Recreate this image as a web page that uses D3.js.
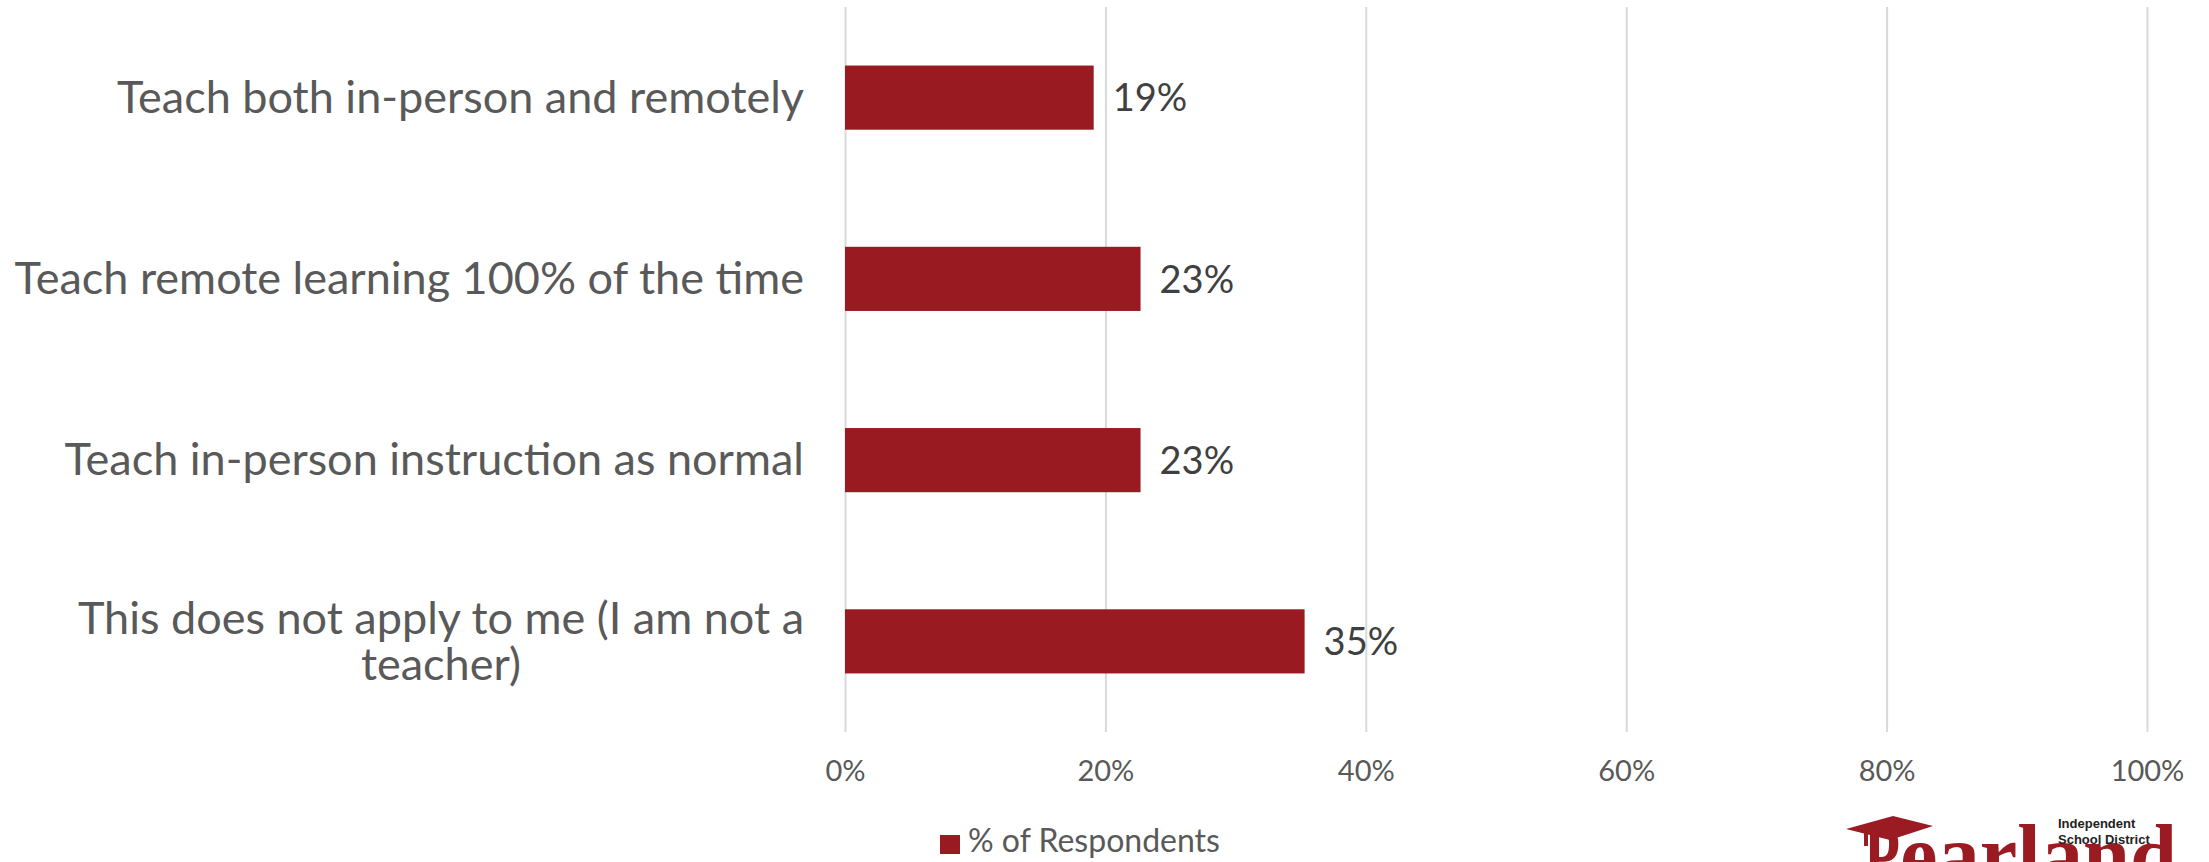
<!DOCTYPE html>
<html><head><meta charset="utf-8">
<script src="https://cdn.jsdelivr.net/npm/d3@7"></script>
<style>
body{margin:0;background:#fff;}
svg{display:block;}
text{font-family:Lato,"Open Sans",sans-serif;}
</style>
</head><body>
<svg id="chart" width="2209" height="862"></svg>
<script>
const categories = [
  "Teach both in-person and remotely",
  "Teach remote learning 100% of the time",
  "Teach in-person instruction as normal",
  "This does not apply to me (I am not a teacher)"
];
const values = [0.191, 0.227, 0.227, 0.353];
const tickValues = [0, 0.2, 0.4, 0.6, 0.8, 1.0];
const seriesName = "% of Respondents";

const barColor = "#991b21";
const svg = d3.select("#chart");
const plot = {left: 845, right: 2147, top: 7, bottom: 732};

const x = d3.scaleLinear().domain([0, 1]).range([plot.left, plot.right]);
const y = d3.scaleBand().domain(categories).range([plot.top, plot.bottom])
  .paddingInner(0.646).paddingOuter(0.323);
const pct = d3.format(".0%");

// gridlines + tick labels
const xAxis = svg.append("g").attr("transform", `translate(0,${plot.bottom})`)
  .call(d3.axisBottom(x).tickValues(tickValues).tickFormat(pct)
    .tickSizeInner(-(plot.bottom - plot.top)).tickSizeOuter(0).tickPadding(28));
xAxis.select(".domain").remove();
xAxis.selectAll("line").attr("stroke", "#d9d9d9").attr("stroke-width", 2);
xAxis.selectAll("text").attr("fill", "#595959").style("font-size", "29px")
  .style("font-family", "Lato, 'Open Sans', sans-serif");

// bars
svg.append("g").selectAll("rect").data(categories).join("rect")
  .attr("x", x(0))
  .attr("y", d => y(d))
  .attr("width", (d, i) => x(values[i]) - x(0))
  .attr("height", y.bandwidth())
  .attr("fill", barColor);

// data labels
svg.append("g").selectAll("text").data(categories).join("text")
  .attr("x", (d, i) => x(values[i]) + 19)
  .attr("y", d => y(d) + y.bandwidth() / 2)
  .attr("dy", "0.36em")
  .attr("fill", "#404040")
  .style("font-size", "38px")
  .text((d, i) => pct(values[i]));

// category labels
const catSize = 45;
const labelPad = 41;
const yAxis = svg.append("g").attr("transform", `translate(${plot.left},0)`)
  .call(d3.axisLeft(y).tickSize(0).tickPadding(labelPad));
yAxis.select(".domain").remove();
yAxis.selectAll("text").attr("fill", "#595959").style("font-size", catSize + "px")
  .style("font-family", "Lato, 'Open Sans', sans-serif")
  .call(wrap, 820, 46);

function wrap(texts, width, lineHeight) {
  texts.each(function() {
    const t = d3.select(this);
    const words = t.text().split(/\s+/);
    const xRight = -labelPad;
    t.text(null);
    let lines = [], line = [];
    let tsp = t.append("tspan");
    for (const w of words) {
      line.push(w);
      tsp.text(line.join(" "));
      if (tsp.node().getComputedTextLength() > width && line.length > 1) {
        line.pop();
        lines.push(line.join(" "));
        line = [w];
        tsp.text(w);
      }
    }
    lines.push(line.join(" "));
    // measure widest line
    let maxW = 0;
    lines.forEach(l => { tsp.text(l); maxW = Math.max(maxW, tsp.node().getComputedTextLength()); });
    t.text(null);
    const n = lines.length;
    if (n > 1) t.attr("text-anchor", "middle");
    const xPos = n > 1 ? xRight - maxW / 2 : xRight;
    lines.forEach((l, i) => {
      t.append("tspan").attr("x", xPos)
        .attr("dy", i === 0 ? (0.34 * catSize - (n - 1) / 2 * lineHeight) + "px" : lineHeight + "px")
        .text(l);
    });
    t.attr("dy", null);
  });
}

// legend
const legend = svg.append("g");
legend.append("rect").attr("x", 940).attr("y", 835).attr("width", 20).attr("height", 19).attr("fill", barColor);
legend.append("text").attr("x", 968).attr("y", 852)
  .attr("fill", "#595959").style("font-size", "32px").text(seriesName);

// logo (partially visible at bottom-right)
const logoRed = "#9b1b22";
const logo = svg.append("g");
logo.append("text").attr("x", 1864).attr("y", 884)
  .attr("textLength", 36).attr("lengthAdjust", "spacingAndGlyphs")
  .style("font-family", "'Liberation Serif', serif").style("font-weight", "bold")
  .style("font-size", "86px").attr("fill", logoRed).text("P");
logo.append("text").attr("x", 1900).attr("y", 884)
  .attr("textLength", 277).attr("lengthAdjust", "spacingAndGlyphs")
  .style("font-family", "'Liberation Serif', serif").style("font-weight", "bold")
  .style("font-size", "86px").attr("fill", logoRed).text("earland");
logo.append("path")
  .attr("d", "M1846,829 L1893,816 L1933,826 L1890,840 Z")
  .attr("fill", logoRed);
logo.append("path")
  .attr("d", "M1864,833 L1864,846 L1868,846 L1868,833 Z")
  .attr("fill", logoRed);
logo.append("text").attr("x", 2058).attr("y", 828)
  .style("font-family", "'Liberation Sans', sans-serif").style("font-weight", "bold")
  .style("font-size", "13px").attr("fill", "#222").text("Independent");
logo.append("text").attr("x", 2058).attr("y", 844)
  .style("font-family", "'Liberation Sans', sans-serif").style("font-weight", "bold")
  .style("font-size", "13px").attr("fill", "#222").text("School District");
</script>
</body></html>
